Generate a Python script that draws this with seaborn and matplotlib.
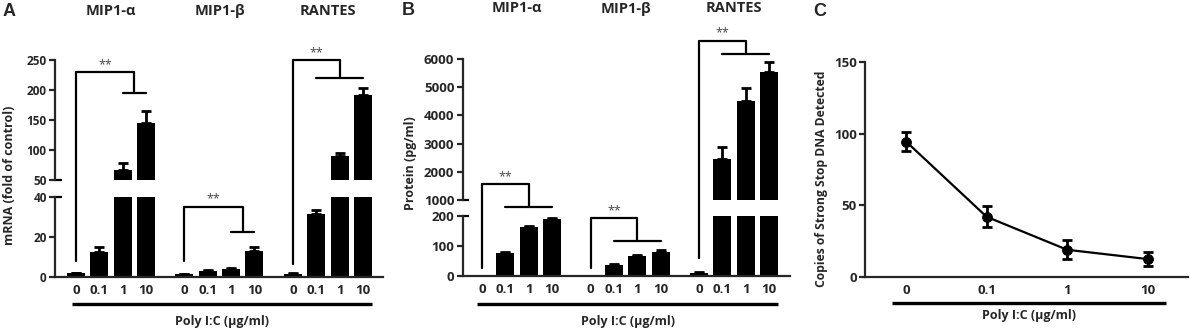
import numpy as np
import pandas as pd
import seaborn as sns
import matplotlib.pyplot as plt
from matplotlib.lines import Line2D
from matplotlib import transforms

# --- datos ---
groups = ['MIP1-α', 'MIP1-β', 'RANTES']
doses = ['0', '0.1', '1', '10']

# A: mRNA (fold of control)
mrna_mip1a = [1.8, 12.2, 66.7, 144.4]
mrna_mip1a_err = [0.3, 2.5, 11.0, 21.0]
mrna_mip1b = [1.2, 2.8, 3.8, 13.0]
mrna_mip1b_err = [0.2, 0.4, 0.5, 2.0]
mrna_rantes = [1.5, 31.3, 90.0, 191.7]
mrna_rantes_err = [0.3, 2.0, 5.5, 12.0]

# B: protein (pg/ml)
prot_mip1a = [0, 75, 162, 188]
prot_mip1a_err = [0, 3, 3, 3]
prot_mip1b = [0, 37, 66, 80]
prot_mip1b_err = [0, 3, 3, 5]
prot_rantes = [10, 2450, 4500, 5530]
prot_rantes_err = [2, 430, 470, 370]

# C: strong stop DNA
copies_mean = [94.5, 42.0, 19.0, 12.5]
copies_err = [6.5, 7.3, 6.5, 4.7]

# brackets: (y_start, y_top, y_bar, first covered bar)
brackets_a = [(8, 230, 195, 2), (8, 35, 22.5, 2), (6.5, 250, 220, 1)]
brackets_b = [(25, 1565, 230, 1), (25, 192, 116, 1), (60, 6650, 6190, 1)]

group_gap = 4.65
W, H = 1191, 331

sns.set_style("ticks")
plt.rcParams['font.family'] = ['Open Sans', 'DejaVu Sans']
plt.rcParams['font.weight'] = 'bold'
plt.rcParams['axes.linewidth'] = 1.6

fig = plt.figure(figsize=(W / 100, H / 100), dpi=100)


def px_axes(left, right, top, bottom):
    return fig.add_axes([left / W, 1 - bottom / H, (right - left) / W, (bottom - top) / H])


def make_df(vals, errs):
    rows = []
    for g, (v, e) in enumerate(zip(vals, errs)):
        for i in range(4):
            rows.append({'pos': g * group_gap + i, 'val': v[i], 'err': e[i],
                         'group': groups[g], 'dose': doses[i]})
    return pd.DataFrame(rows)


def draw_bars(ax, df):
    sns.barplot(data=df, x='pos', y='val', native_scale=True, color='black',
                saturation=1, width=0.77, errorbar=None, linewidth=0, ax=ax)
    ax.errorbar(df['pos'], df['val'], yerr=[np.zeros(len(df)), df['err']], fmt='none',
                ecolor='black', elinewidth=2, capsize=3.5, capthick=2)


def to_fig(ax, x, y):
    return fig.transFigure.inverted().transform(ax.transData.transform((x, y)))


def broken_panel(df, lo, hi, xlim, lo_ylim, hi_ylim, lo_ticks, hi_ticks, brackets, ysize):
    for ax in (lo, hi):
        draw_bars(ax, df)
        ax.set_xlim(*xlim)
        ax.set_xlabel('')
        ax.set_ylabel('')
        ax.tick_params(axis='y', length=4, width=1.6, labelsize=ysize, pad=2)
        sns.despine(ax=ax)
    lo.set_ylim(*lo_ylim)
    hi.set_ylim(*hi_ylim)
    lo.set_yticks(lo_ticks)
    hi.set_yticks(hi_ticks)
    hi.spines['bottom'].set_visible(False)
    hi.tick_params(axis='x', length=0, labelbottom=False)
    hi.patch.set_alpha(0)
    lo.patch.set_alpha(0)
    lo.set_xticks(df['pos'], df['dose'])
    lo.tick_params(axis='x', length=0, labelsize=9.5, pad=5)
    # marcas de corte del eje
    for ax, yv in ((lo, lo_ylim[1]), (hi, hi_ylim[0])):
        ax.plot([0, 0.02], [yv, yv], transform=ax.get_yaxis_transform(),
                color='black', lw=1.6, clip_on=False, solid_capstyle='butt')
    split = hi_ylim[0]
    for g, (ys, yt, yb, first) in enumerate(brackets):
        x0 = g * group_gap
        xa = g * group_gap + first
        xb = g * group_gap + 3
        xm = (xa + xb) / 2
        pts = [to_fig(lo if y < split else hi, x, y)
               for x, y in ((x0, ys), (x0, yt), (xm, yt), (xm, yb))]
        fig.add_artist(Line2D([p[0] for p in pts], [p[1] for p in pts],
                              transform=fig.transFigure, color='black', lw=1.6))
        pa = to_fig(lo if yb < split else hi, xa, yb)
        pb = to_fig(lo if yb < split else hi, xb, yb)
        fig.add_artist(Line2D([pa[0], pb[0]], [pa[1], pb[1]],
                              transform=fig.transFigure, color='black', lw=1.6))
        fig.text((pts[1][0] + pts[2][0]) / 2, pts[1][1] + 1 / H, '**', ha='center',
                 va='bottom', fontsize=9, color='#444444', fontweight='normal')


def poly_label(ax, x0, x1, y_line, y_text, title_y, with_titles):
    blend = transforms.blended_transform_factory(ax.transData, fig.transFigure)
    ax.plot([x0, x1], [1 - y_line / H, 1 - y_line / H], transform=blend,
            color='black', lw=2.4, clip_on=False, solid_capstyle='butt')
    ax.text((x0 + x1) / 2, 1 - y_text / H, 'Poly I:C (µg/ml)', transform=blend,
            ha='center', va='center', fontsize=9)
    if with_titles:
        for g, name in enumerate(groups):
            ax.text(g * group_gap + 1.5, 1 - title_y / H, name, transform=blend,
                    ha='center', va='center', fontsize=10.5)


# --- Panel A ---
df_a = make_df([mrna_mip1a, mrna_mip1b, mrna_rantes],
               [mrna_mip1a_err, mrna_mip1b_err, mrna_rantes_err])
ax_a_lo = px_axes(55, 383, 196.7, 276.7)
ax_a_hi = px_axes(55, 383, 60, 180)
broken_panel(df_a, ax_a_lo, ax_a_hi, (-0.9, 13.16), (0, 40), (50, 250),
             [0, 20, 40], [50, 100, 150, 200, 250], brackets_a, 8.5)
poly_label(ax_a_lo, -0.17, 2 * group_gap + 3.38, 304, 321, 11, True)

# --- Panel B ---
df_b = make_df([prot_mip1a, prot_mip1b, prot_rantes],
               [prot_mip1a_err, prot_mip1b_err, prot_rantes_err])
ax_b_lo = px_axes(462.7, 790, 215.7, 275.7)
ax_b_hi = px_axes(462.7, 790, 59, 200)
broken_panel(df_b, ax_b_lo, ax_b_hi, (-0.83, 13.2), (0, 200), (1000, 6000),
             [0, 100, 200], [1000, 2000, 3000, 4000, 5000, 6000], brackets_b, 9.5)
poly_label(ax_b_lo, -0.2, 2 * group_gap + 3.4, 304, 321, 8.5, True)

# --- Panel C ---
ax_c = px_axes(865, 1188, 62, 277)
c_pos = np.arange(len(doses))
sns.lineplot(x=c_pos, y=copies_mean, marker='o', markersize=7, color='black',
             lw=1.6, markeredgecolor='black', ax=ax_c)
ax_c.errorbar(c_pos, copies_mean, yerr=copies_err, fmt='none', ecolor='black',
              elinewidth=2, capsize=3.5, capthick=2)
ax_c.set_xlim(-0.51, 3.5)
ax_c.set_ylim(0, 150)
ax_c.set_yticks([0, 50, 100, 150])
ax_c.set_xticks(c_pos, doses)
ax_c.tick_params(axis='y', length=4, width=1.6, labelsize=9.5, pad=2)
ax_c.tick_params(axis='x', length=0, labelsize=9.5, pad=5)
ax_c.patch.set_alpha(0)
sns.despine(ax=ax_c)
poly_label(ax_c, -0.17, 3.23, 303, 315, 0, False)

# --- textos de figura ---
fig.text(10 / W, 1 - 175 / H, 'mRNA (fold of control)', rotation=90, ha='center',
         va='center', fontsize=9)
fig.text(410 / W, 1 - 163.5 / H, 'Protein (pg/ml)', rotation=90, ha='center',
         va='center', fontsize=9)
fig.text(821 / W, 1 - 179 / H, 'Copies of Strong Stop DNA Detected', rotation=90,
         ha='center', va='center', fontsize=8.7)
for x, y, letter in ((9, 11, 'A'), (408, 10.5, 'B'), (820, 11, 'C')):
    fig.text(x / W, 1 - y / H, letter, ha='center', va='center', fontsize=13,
             fontweight='bold', family='Liberation Sans')

fig.savefig('out.png', dpi=100)
